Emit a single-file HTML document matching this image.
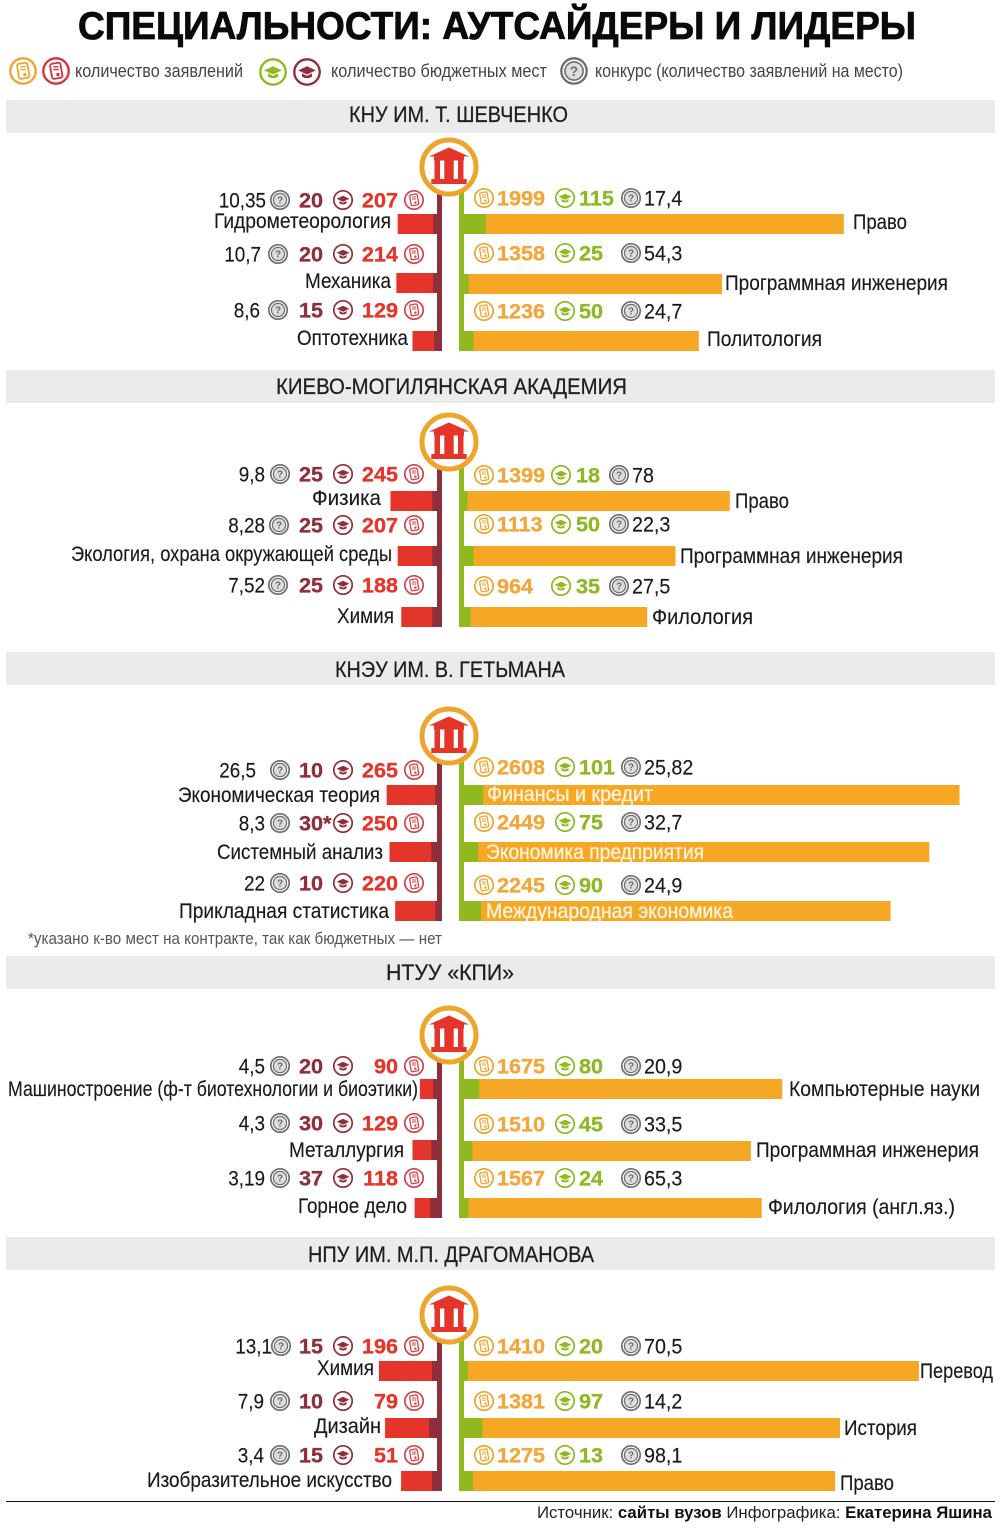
<!DOCTYPE html>
<html lang="ru">
<head>
<meta charset="utf-8">
<title>Специальности: аутсайдеры и лидеры</title>
<style>
html,body{margin:0;padding:0;background:#fff;width:1000px;height:1528px;overflow:hidden}
svg{display:block}
text{font-family:"Liberation Sans","Noto Sans CJK SC",sans-serif}
</style>
</head>
<body>
<svg id="chart" xmlns="http://www.w3.org/2000/svg" width="1000" height="1528" viewBox="0 0 1000 1528">
  <rect x="0" y="0" width="1000" height="1528" fill="#fff"/>
  <text x="78" y="39" font-size="39" font-weight="700" fill="#0a0a0a" stroke="#0a0a0a" stroke-width=".8" textLength="838" lengthAdjust="spacingAndGlyphs">СПЕЦИАЛЬНОСТИ: АУТСАЙДЕРЫ И ЛИДЕРЫ</text>
  <g id="legend">
    <text x="75" y="77" font-size="18" fill="#444" textLength="168" lengthAdjust="spacingAndGlyphs">количество заявлений</text>
    <text x="331" y="77" font-size="18" fill="#444" textLength="216" lengthAdjust="spacingAndGlyphs">количество бюджетных мест</text>
    <text x="595" y="77" font-size="18" fill="#444" textLength="308" lengthAdjust="spacingAndGlyphs">конкурс (количество заявлений на место)</text>
  </g>
  <text x="28" y="944" font-size="17" fill="#555" textLength="414" lengthAdjust="spacingAndGlyphs">*указано к-во мест на контракте, так как бюджетных  — нет</text>
  <line x1="6" y1="1501.5" x2="995" y2="1501.5" stroke="#111" stroke-width="1"/>
  <text x="537" y="1518" font-size="17" fill="#222" textLength="455" lengthAdjust="spacingAndGlyphs">Источник: <tspan font-weight="700" fill="#111">сайты вузов</tspan> Инфографика: <tspan font-weight="700" fill="#111">Екатерина Яшина</tspan></text>
</svg>
<script>
/* ---------- chart data (one entry per university, three rows each) ---------- */
const universities = ["КНУ ИМ. Т. ШЕВЧЕНКО", "КИЕВО-МОГИЛЯНСКАЯ АКАДЕМИЯ", "КНЭУ ИМ. В. ГЕТЬМАНА", "НТУУ «КПИ»", "НПУ ИМ. М.П. ДРАГОМАНОВА"];

const outsiderNames = [
  ["Гидрометеорология", "Механика", "Оптотехника"],
  ["Физика", "Экология, охрана окружающей среды", "Химия"],
  ["Экономическая теория", "Системный анализ", "Прикладная статистика"],
  ["Машиностроение (ф-т биотехнологии и биоэтики)", "Металлургия", "Горное дело"],
  ["Химия", "Дизайн", "Изобразительное искусство"]
];
const outsiderApplications = [[207, 214, 129], [245, 207, 188], [265, 250, 220], [90, 129, 118], [196, 79, 51]];
const outsiderPlaces = [[20, 20, 15], [25, 25, 25], [10, 30, 10], [20, 30, 37], [15, 10, 15]];
const outsiderPlaceMarks = [["", "", ""], ["", "", ""], ["", "*", ""], ["", "", ""], ["", "", ""]];
const outsiderCompetition = [["10,35", "10,7", "8,6"], ["9,8", "8,28", "7,52"], ["26,5", "8,3", "22"], ["4,5", "4,3", "3,19"], ["13,1", "7,9", "3,4"]];
/* The drawn bar length differs from the printed number in the last block. */
const outsiderBarRatio = [[1, 1, 1], [1, 1, 1], [1, 1, 1], [1, 1, 1], [1.56, 3.46, 3.71]];
const outsiderPlaceRatio = [[1, 1, 1], [1, 1, 1], [1, 1, 1], [1, 1, 1], [1.75, 4.2, 1.75]];

const leaderNames = [
  ["Право", "Программная инженерия", "Политология"],
  ["Право", "Программная инженерия", "Филология"],
  ["Финансы и кредит", "Экономика предприятия", "Международная экономика"],
  ["Компьютерные науки", "Программная инженерия", "Филология (англ.яз.)"],
  ["Перевод", "История", "Право"]
];
const leaderApplications = [[1999, 1358, 1236], [1399, 1113, 964], [2608, 2449, 2245], [1675, 1510, 1567], [1410, 1381, 1275]];
const leaderPlaces = [[115, 25, 50], [18, 50, 35], [101, 75, 90], [80, 45, 24], [20, 97, 13]];
const leaderCompetition = [["17,4", "54,3", "24,7"], ["78", "22,3", "27,5"], ["25,82", "32,7", "24,9"], ["20,9", "33,5", "65,3"], ["70,5", "14,2", "98,1"]];
const leaderBarRatio = [[1, 1, 1], [1, 1, 1], [1, 1, 1], [1, 1, 1], [1.698, 1.433, 1.532]];
const leaderPlaceRatio = [[1, 1, 1], [1, 1, 1], [1, 1, 1], [1, 1, 1], [1, 1, 3.6]];

/* ---------- layout (page geometry, not data) ---------- */
const layout = {
  sections: [
    {band: 100, titleX: 349, titleW: 219, titleY: 122, circle: 167, leftStat: [200, 254, 310], leftLabel: [221, 281, 338], leftLabelSpan: [[214, 391], [305, 391], [297, 408]], leftBar: [214, 273, 331],
     contestEnd: [266, 261, 260], contestIcon: [280, 278, 278],
     rightStat: [198, 253, 311], rightLabel: [222, 283, 339], rightLabelSpan: [[853, 907], [725, 948], [707, 822]], rightBar: [214, 274, 331], cols: [484, 497, 565, 579, 631, 644]},
    {band: 370, titleX: 276, titleW: 351, titleY: 394, circle: 442, leftStat: [474, 525, 585], leftLabel: [498, 554, 616], leftLabelSpan: [[312, 381], [71, 392], [337, 394]], leftBar: [491, 546, 607],
     contestEnd: [265, 265, 265], contestIcon: [280, 279, 278],
     rightStat: [475, 524, 586], rightLabel: [501, 556, 617], rightLabelSpan: [[735, 789], [680, 903], [652, 753]], rightBar: [491, 546, 607], cols: [484, 497, 561, 576, 619, 632]},
    {band: 652, titleX: 335, titleW: 230, titleY: 677, circle: 736, leftStat: [770, 823, 883], leftLabel: [795, 852, 911], leftLabelSpan: [[178, 380], [217, 383], [179, 389]], leftBar: [785, 842, 901],
     contestEnd: [256, 265, 265], contestIcon: [280, 280, 280],
     rightStat: [767, 822, 885], rightLabel: [794, 852, 911], rightLabelSpan: [[487, 653], [486, 704], [486, 733]], rightBar: [785, 842, 901], cols: [484, 497, 565, 579, 631, 644], insideLabels: true},
    {band: 956, titleX: 386, titleW: 128, titleY: 980, circle: 1035, leftStat: [1066, 1123, 1178], leftLabel: [1089, 1150, 1206], leftLabelSpan: [[8, 418], [289, 404], [298, 407]], leftBar: [1079, 1140, 1198],
     contestEnd: [265, 265, 265], contestIcon: [280, 280, 280],
     rightStat: [1066, 1124, 1178], rightLabel: [1089, 1150, 1207], rightLabelSpan: [[789, 980], [756, 979], [768, 955]], rightBar: [1079, 1141, 1198], cols: [484, 497, 565, 579, 631, 644]},
    {band: 1237, titleX: 308, titleW: 286, titleY: 1262, circle: 1315, leftStat: [1346, 1401, 1455], leftLabel: [1368, 1426, 1480], leftLabelSpan: [[317, 374], [314, 381], [147, 392]], leftBar: [1361, 1418, 1471],
     contestEnd: [272, 264, 264], contestIcon: [281, 280, 280],
     rightStat: [1346, 1401, 1455], rightLabel: [1371, 1428, 1483], rightLabelSpan: [[920, 993], [844, 917], [840, 894]], rightBar: [1361, 1418, 1471], cols: [484, 497, 565, 579, 631, 644]}
  ]
};

const COLORS = {red: "#e5352a", wine: "#8f2f3c", orange: "#f6a723", green: "#8fb91e", ring: "#eea52b", grey: "#6e6e6e", ink: "#1a1a1a", appLeader: "#f3a63a", greenText: "#8fb825"};
const BAR_HEIGHT = 20;
const svg = document.getElementById("chart");
const NS = "http://www.w3.org/2000/svg";

/* axis functions: value -> pixels */
const AXIS_LEFT_X = 437, AXIS_RIGHT_X = 464, AXIS_W = 5, UNIT = 0.19;
function leftScale(v) { return AXIS_LEFT_X - v * UNIT; }
function rightScale(v) { return AXIS_RIGHT_X + v * UNIT; }

function mk(tag, name, parent, attrs) {
  const el = document.createElementNS(NS, tag);
  
  
  for (const k in attrs) el.setAttribute(k, attrs[k]);
  (parent || svg).appendChild(el);
  return el;
}
function rect(name, parent, x, y, w, h, fill) {
  return mk("rect", name, parent, {x: x, y: y, width: w, height: h, fill: fill});
}
function label(name, parent, str, x, y, o) {
  o = o || {};
  const t = mk("text", name, parent, {
    transform: "translate(" + x + "," + y + ") scale(" + (o.sx || 1) + ",1)",
    "text-anchor": o.anchor || "start",
    "font-size": o.size || 20,
    "font-weight": o.weight || 400,
    fill: o.fill || COLORS.ink
  });
  if (o.len) { t.setAttribute("textLength", o.len); t.setAttribute("lengthAdjust", "spacingAndGlyphs"); }
  if (o.stroke) { t.setAttribute("stroke", o.fill || COLORS.ink); t.setAttribute("stroke-width", o.stroke); }
  t.textContent = str;
  return t;
}

function iconBase(name, parent, cx, cy, s, color) {
  const g = mk("g", name, parent, {transform: "translate(" + cx + "," + cy + ") scale(" + s + ")"});
  mk("circle", name + "-ring", g, {cx: 0, cy: 0, r: 9.2, fill: "#fff", stroke: color, "stroke-width": 1.7});
  return g;
}
function iconApplication(name, parent, cx, cy, s, color) {
  const g = iconBase(name, parent, cx, cy, s, color);
  mk("rect", name + "-sheet", g, {x: -3.6, y: -5.6, width: 7.6, height: 11, rx: 1.4, fill: "none", stroke: color, "stroke-width": 1.3, transform: "rotate(-10)"});
  mk("circle", name + "-dot", g, {cx: 1.4, cy: 2.6, r: 1.2, fill: color});
  mk("path", name + "-lines", g, {d: "M-2 -3H2M-2 -1H2", stroke: color, "stroke-width": 1, fill: "none"});
}
function iconCap(name, parent, cx, cy, s, color) {
  const g = iconBase(name, parent, cx, cy, s, color);
  mk("path", name + "-cap", g, {d: "M-6.4 -1.2L0 -4.2L6.4 -1.2L0 1.8ZM-3.6 1V3.4Q0 5.6 3.6 3.4V1L0 2.8Z", fill: color});
}
function iconContest(name, parent, cx, cy, s, color) {
  const g = iconBase(name, parent, cx, cy, s, color);
  mk("circle", name + "-inner", g, {cx: 0, cy: 0, r: 6.6, fill: "#ddd", stroke: color, "stroke-width": 1.2});
  const q = mk("text", name + "-mark", g, {x: 0, y: 3.6, "text-anchor": "middle", "font-size": 10, "font-weight": 700, fill: color});
  q.textContent = "?";
}
function temple(name, parent, cx, cy) {
  const g = mk("g", name, parent, {transform: "translate(" + cx + "," + cy + ")"});
  const c = COLORS.red;
  mk("polygon", name + "-roof", g, {points: "-20,-10.5 0,-19.5 20,-10.5", fill: c});
  rect(name + "-beam", g, -15, -10.5, 30, 4, c);
  rect(name + "-column-1", g, -14.5, -7, 5.5, 19.5, c);
  rect(name + "-column-2", g, -4.7, -7, 9.4, 19.5, c);
  rect(name + "-column-3", g, 9, -7, 5.5, 19.5, c);
  rect(name + "-base", g, -17.7, 12, 35.4, 5, c);
}

/* legend icons */
const lg = document.getElementById("legend");
iconApplication("legend-leader-applications-icon", lg, 23, 71, 1.38, COLORS.ring);
iconApplication("legend-outsider-applications-icon", lg, 56, 71, 1.38, "#d2343a");
iconCap("legend-leader-places-icon", lg, 273, 72, 1.38, COLORS.green);
iconCap("legend-outsider-places-icon", lg, 307, 72, 1.38, COLORS.wine);
iconContest("legend-competition-icon", lg, 574, 71, 1.38, COLORS.grey);

/* sections */
universities.forEach(function (uni, s) {
  const L = layout.sections[s];
  const sec = mk("g", "section-" + (s + 1), svg, {});
  rect("section-band", sec, 6, L.band, 989, 33, "#ebebeb");
  label("section-title", sec, uni, L.titleX, L.titleY, {size: 22, len: L.titleW, fill: "#1e1e1e", stroke: 0.25});

  const bottom = Math.max(L.leftBar[2], L.rightBar[2]) + BAR_HEIGHT;
  const top = L.circle;
  rect("outsider-axis", sec, AXIS_LEFT_X, top, AXIS_W, L.leftBar[2] + BAR_HEIGHT - top, COLORS.wine);
  rect("leader-axis", sec, AXIS_RIGHT_X - AXIS_W, top, AXIS_W, bottom - top, COLORS.green);

  for (let r = 0; r < 3; r++) {
    /* outsiders */
    const lApps = outsiderApplications[s][r], lPlaces = outsiderPlaces[s][r];
    const ly = L.leftBar[r];
    const lx = leftScale(lApps * outsiderBarRatio[s][r]);
    rect("outsider-applications-bar", sec, lx, ly, AXIS_LEFT_X - lx, BAR_HEIGHT, COLORS.red);
    const px = leftScale(lPlaces * outsiderPlaceRatio[s][r]);
    rect("outsider-places-bar", sec, px, ly, AXIS_LEFT_X - px, BAR_HEIGHT, COLORS.wine);
    const lSpan = L.leftLabelSpan[r];
    label("outsider-name", sec, outsiderNames[s][r], lSpan[0], L.leftLabel[r] + 7, {size: 21, len: lSpan[1] - lSpan[0], stroke: 0.15});

    const sy = L.leftStat[r];
    label("outsider-competition-value", sec, outsiderCompetition[s][r], L.contestEnd[r], sy + 7.5, {anchor: "end", size: 21, sx: 0.9, stroke: 0.15});
    iconContest("outsider-competition-icon", sec, L.contestIcon[r], sy, 1, COLORS.grey);
    label("outsider-places-value", sec, lPlaces + outsiderPlaceMarks[s][r], 299, sy + 7.5, {size: 21, weight: 700, fill: COLORS.wine, sx: 1.03, stroke: 0.3});
    iconCap("outsider-places-icon", sec, 343, sy, 1, COLORS.wine);
    label("outsider-applications-value", sec, String(lApps), 398, sy + 7.5, {anchor: "end", size: 21, weight: 700, fill: COLORS.red, sx: 1.03, stroke: 0.3});
    iconApplication("outsider-applications-icon", sec, 414, sy, 1, "#d2434a");

    /* leaders */
    const rApps = leaderApplications[s][r], rPlaces = leaderPlaces[s][r];
    const ry = L.rightBar[r];
    const rx = rightScale(rApps * leaderBarRatio[s][r]);
    rect("leader-applications-bar", sec, AXIS_RIGHT_X, ry, rx - AXIS_RIGHT_X, BAR_HEIGHT, COLORS.orange);
    rect("leader-places-bar", sec, AXIS_RIGHT_X, ry, rightScale(rPlaces * leaderPlaceRatio[s][r]) - AXIS_RIGHT_X, BAR_HEIGHT, COLORS.green);
    const rSpan = L.rightLabelSpan[r];
    label("leader-name", sec, leaderNames[s][r], rSpan[0], L.rightLabel[r] + 7,
      L.insideLabels ? {size: 21, len: rSpan[1] - rSpan[0], fill: "#fff3dc", stroke: 0.35} : {size: 21, len: rSpan[1] - rSpan[0], stroke: 0.15});

    const ty = L.rightStat[r], c = L.cols;
    iconApplication("leader-applications-icon", sec, c[0], ty, 1, COLORS.ring);
    label("leader-applications-value", sec, String(rApps), c[1], ty + 7.5, {size: 21, weight: 700, fill: COLORS.appLeader, sx: 1.03, stroke: 0.3});
    iconCap("leader-places-icon", sec, c[2], ty, 1, COLORS.green);
    label("leader-places-value", sec, String(rPlaces), c[3], ty + 7.5, {size: 21, weight: 700, fill: COLORS.greenText, sx: 1.03, stroke: 0.3});
    iconContest("leader-competition-icon", sec, c[4], ty, 1, COLORS.grey);
    label("leader-competition-value", sec, leaderCompetition[s][r], c[5], ty + 7.5, {size: 21, sx: 0.94, stroke: 0.15});
  }

  mk("circle", "university-badge", sec, {cx: 449, cy: L.circle, r: 27, fill: "#fff", stroke: COLORS.ring, "stroke-width": 5});
  temple("university-icon", sec, 449, L.circle);
});
</script>
</body>
</html>
